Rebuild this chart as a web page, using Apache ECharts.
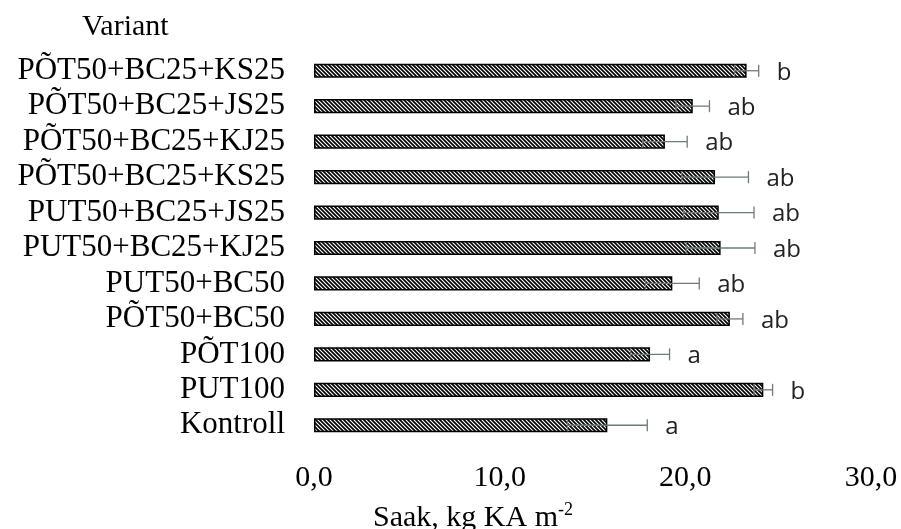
<!DOCTYPE html>
<html><head><meta charset="utf-8">
<script src="https://cdn.jsdelivr.net/npm/echarts@6/dist/echarts.min.js"></script>
<style>html,body{margin:0;padding:0;background:#fff}#c{width:901px;height:529px}</style>
</head><body><div id="c"></div>
<script>
const categories = ['PÕT50+BC25+KS25','PÕT50+BC25+JS25','PÕT50+BC25+KJ25','PÕT50+BC25+KS25 ','PUT50+BC25+JS25','PUT50+BC25+KJ25','PUT50+BC50','PÕT50+BC50','PÕT100','PUT100','Kontroll'];
const means = [23.3, 20.4, 18.9, 21.6, 21.8, 21.9, 19.3, 22.4, 18.1, 24.2, 15.8];
const errors = [0.65, 0.9, 1.2, 1.8, 1.9, 1.85, 1.45, 0.7, 1.05, 0.5, 2.15];
const letters = ['b','ab','ab','ab','ab','ab','ab','ab','a','b','a'];
const xTicks = [0, 10, 20, 30];

const pc = document.createElement('canvas');
pc.width = 4; pc.height = 4;
const g = pc.getContext('2d');
g.fillStyle = '#fff'; g.fillRect(0,0,4,4);
g.strokeStyle = '#000'; g.lineWidth = 1.7;
g.beginPath();
g.moveTo(-1,-1); g.lineTo(5,5);
g.moveTo(-1,3); g.lineTo(1,5);
g.moveTo(3,-1); g.lineTo(5,1);
g.stroke();

const chart = echarts.init(document.getElementById('c'));
const errData = means.map((m,i)=>[i, m-errors[i], m+errors[i], letters[i]]);
chart.setOption({
  animation:false,
  grid:{left:314, right:30, top:53, height:390},
  graphic:[
    {type:'text', left:82, top:12, style:{text:'Variant', font:'30px "Liberation Serif"', fill:'#000'}},
    {type:'text', left:373, top:501, style:{text:'{a|Saak, kg KA m}{s|-2}', fill:'#000',
      rich:{a:{fontFamily:'Liberation Serif', fontSize:30, color:'#000', verticalAlign:'bottom'}, s:{fontFamily:'Liberation Serif', fontSize:18, color:'#000', verticalAlign:'top', padding:[0,0,14,0]}}}}
  ],
  xAxis:{type:'value', min:xTicks[0], max:xTicks[xTicks.length-1], interval:xTicks[1]-xTicks[0],
    axisLine:{show:false}, axisTick:{show:false}, splitLine:{show:false},
    axisLabel:{margin:20, color:'#000', fontFamily:'Liberation Serif', fontSize:30,
      formatter:v=>v.toFixed(1).replace('.',',')}},
  yAxis:{type:'category', data:categories, inverse:true,
    axisLine:{show:false}, axisTick:{show:false},
    axisLabel:{interval:0, margin:29, color:'#000', fontFamily:'Liberation Serif', fontSize:31, formatter:v=>v.trim()}},
  series:[
    {type:'bar', data:means, barCategoryGap:'60%',
      itemStyle:{color:{image:pc, repeat:'repeat'}, borderColor:'#000', borderWidth:1.5}},
    {type:'custom', data:errData, encode:{x:[1,2], y:0}, z:5,
      renderItem:function(params, api){
        const y = api.coord([0, api.value(0)])[1];
        const lo = api.coord([api.value(1), api.value(0)])[0];
        const hi = api.coord([api.value(2), api.value(0)])[0];
        const h = 6;
        const st = {stroke:'#6f7b7b', lineWidth:1.3};
        return {type:'group', children:[
          {type:'line', shape:{x1:lo,y1:y,x2:hi,y2:y}, style:st},
          {type:'line', shape:{x1:lo,y1:y-h,x2:lo,y2:y+h}, style:st},
          {type:'line', shape:{x1:hi,y1:y-h,x2:hi,y2:y+h}, style:st},
          {type:'text', x:hi+18, y:y+2, style:{text:api.value(3), font:'24px "Open Sans"', fill:'#222', textVerticalAlign:'middle'}}
        ]};
      }}
  ]
});
</script></body></html>
